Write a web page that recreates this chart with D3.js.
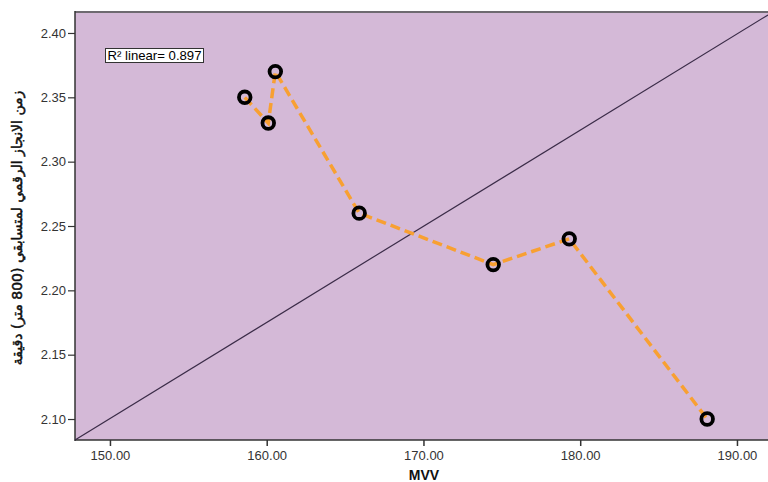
<!DOCTYPE html>
<html>
<head>
<meta charset="utf-8">
<script src="https://cdn.jsdelivr.net/npm/d3@7/dist/d3.min.js"></script>
<style>
  html, body { margin: 0; padding: 0; background: #fff; }
  svg { display: block; }
</style>
</head>
<body>
<svg id="chart" width="768" height="482"></svg>
<script>
// Data
const mvv = [158.6, 160.1, 160.55, 165.9, 174.45, 179.3, 188.1];
const timeMin = [2.35, 2.33, 2.37, 2.26, 2.22, 2.24, 2.10];
const refLineX = [147.77, 191.98];
const refLineY = [2.0837, 2.414];
const xTicks = [150, 160, 170, 180, 190];
const yTicks = [2.10, 2.15, 2.20, 2.25, 2.30, 2.35, 2.40];
const xDomain = [147.77, 191.98];
const yDomain = [2.0837, 2.4163];
const r2Label = "R² linear= 0.897";
const xTitle = "MVV";
const yTitle = "زمن الانجاز الرقمي لمتسابقي (800 متر) دقيقة";

const svg = d3.select("#chart");
const pLeft = 75, pRight = 768, pTop = 12, pBottom = 440;

const x = d3.scaleLinear().domain(xDomain).range([pLeft, pRight]);
const y = d3.scaleLinear().domain(yDomain).range([pBottom, pTop]);

// plot background
svg.append("rect")
  .attr("x", pLeft).attr("y", pTop)
  .attr("width", pRight - pLeft).attr("height", pBottom - pTop)
  .attr("fill", "#d4b9d7");

// frame lines
svg.append("line").attr("x1", pLeft).attr("x2", pRight).attr("y1", pTop).attr("y2", pTop)
  .attr("stroke", "#6e6a70").attr("stroke-width", 2);
svg.append("line").attr("x1", pLeft).attr("x2", pLeft).attr("y1", pTop - 1).attr("y2", pBottom + 1)
  .attr("stroke", "#333").attr("stroke-width", 1.5);
svg.append("line").attr("x1", pLeft).attr("x2", pRight).attr("y1", pBottom).attr("y2", pBottom)
  .attr("stroke", "#333").attr("stroke-width", 1.5);

// axes
const xAxis = d3.axisBottom(x).tickValues(xTicks).tickFormat(d3.format(".2f")).tickSize(6).tickSizeOuter(0);
const gx = svg.append("g").attr("transform", `translate(0,${pBottom})`).call(xAxis);
gx.select(".domain").remove();
gx.selectAll(".tick line").attr("stroke", "#333").attr("stroke-width", 1.5);
gx.selectAll(".tick text").attr("font-family", "Arial, 'Liberation Sans', sans-serif")
  .attr("font-size", 13).attr("fill", "#333").attr("dy", "0.85em");

const yAxis = d3.axisLeft(y).tickValues(yTicks).tickFormat(d3.format(".2f")).tickSize(7).tickSizeOuter(0);
const gy = svg.append("g").attr("transform", `translate(${pLeft},0)`).call(yAxis);
gy.select(".domain").remove();
gy.selectAll(".tick line").attr("stroke", "#333").attr("stroke-width", 1.2);
gy.selectAll(".tick text").attr("font-family", "Arial, 'Liberation Sans', sans-serif")
  .attr("font-size", 13).attr("fill", "#333").attr("x", -9);

// reference line
svg.append("line")
  .attr("x1", x(refLineX[0])).attr("y1", y(refLineY[0]))
  .attr("x2", x(refLineX[1])).attr("y2", y(refLineY[1]))
  .attr("stroke", "#3b2c48").attr("stroke-width", 1.2);

// data line
const pts = mvv.map((d, i) => [d, timeMin[i]]);
svg.append("path")
  .datum(pts)
  .attr("d", d3.line().x(d => x(d[0])).y(d => y(d[1])))
  .attr("fill", "none")
  .attr("stroke", "#f8a032")
  .attr("stroke-width", 3.5)
  .attr("stroke-dasharray", "10,5");

// markers
svg.append("g").selectAll("circle").data(pts).join("circle")
  .attr("cx", d => x(d[0])).attr("cy", d => y(d[1]))
  .attr("r", 5.8)
  .attr("fill", "none")
  .attr("stroke", "#000")
  .attr("stroke-width", 3.8);

// R2 label
const lg = svg.append("g");
lg.append("rect").attr("x", 105.5).attr("y", 48.5).attr("width", 98).attr("height", 14)
  .attr("fill", "#fff").attr("stroke", "#333").attr("stroke-width", 1);
lg.append("text").attr("x", 154.5).attr("y", 60).attr("text-anchor", "middle")
  .attr("font-family", "Arial, 'Liberation Sans', sans-serif").attr("font-size", 13)
  .attr("textLength", 94).attr("lengthAdjust", "spacingAndGlyphs")
  .attr("fill", "#000").text(r2Label);

// axis titles
svg.append("text").attr("x", 424).attr("y", 480).attr("text-anchor", "middle")
  .attr("font-family", "Arial, 'Liberation Sans', sans-serif").attr("font-weight", "bold")
  .attr("font-size", 14).attr("fill", "#111").text(xTitle);

svg.append("text")
  .attr("transform", "translate(22,228) rotate(-90)")
  .attr("text-anchor", "middle")
  .attr("direction", "rtl")
  .attr("font-family", "'DejaVu Sans', sans-serif")
  .attr("font-size", 14).attr("fill", "#111")
  .attr("stroke", "#111").attr("stroke-width", 0.5)
  .text(yTitle);
</script>
</body>
</html>
